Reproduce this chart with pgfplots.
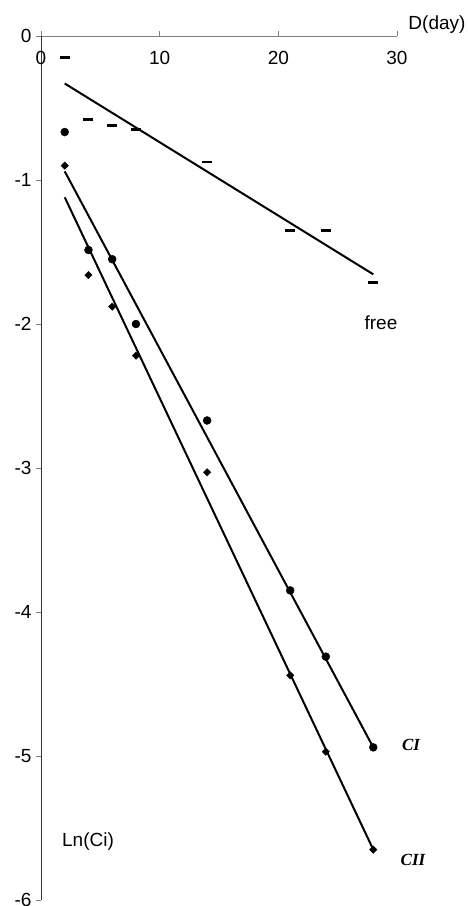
\documentclass[border=0pt]{standalone}
\usepackage{pgfplots}
\pgfplotsset{compat=1.18}
\usepackage{fontspec}
\setmainfont{Liberation Sans}
\newfontfamily\timesf{Liberation Serif}
\begin{document}
\begin{tikzpicture}
\begin{axis}[
  scale only axis,
  width=356pt, height=864pt,
  at={(0,0)}, anchor=south west,
  xmin=0, xmax=30, ymin=-6, ymax=0,
  axis x line=top, axis y line=left,
  axis line style={-},
  x axis line style={draw=gray, line width=0.8pt},
  y axis line style={draw=black!80, line width=0.8pt},
  xtick={0,10,20,30}, ytick={0,-1,-2,-3,-4,-5,-6},
  tick align=outside,
  major tick length=5pt,
  tick style={draw=gray, line width=0.8pt},
  /pgf/number format/assume math mode=true,
  tick label style={font=\fontsize{19}{21}\selectfont},
  xticklabel style={anchor=center, yshift=-27pt},
  yticklabel style={xshift=-1pt},
  clip=false,
]
% free
\addplot[only marks, mark=-, mark size=5pt, mark options={line width=2.6pt}] coordinates {
 (2,-0.15) (4,-0.58) (6,-0.62) (8,-0.65) (14,-0.875) (21,-1.35) (24,-1.35) (28,-1.71)};
\addplot[black, line width=2pt] coordinates {(2,-0.33) (28,-1.655)};
% CI
\addplot[only marks, mark=*, mark size=4pt, black] coordinates {
 (2,-0.667) (4,-1.486) (6,-1.55) (8,-2.0) (14,-2.67) (21,-3.85) (24,-4.31) (28,-4.94)};
\addplot[black, line width=2pt] coordinates {(2,-0.94) (28,-4.94)};
% CII
\addplot[only marks, mark=square*, mark size=2.6pt, mark options={rotate=45}, black] coordinates {
 (2,-0.90) (4,-1.66) (6,-1.88) (8,-2.22) (14,-3.03) (21,-4.44) (24,-4.97) (28,-5.65)};
\addplot[black, line width=2pt] coordinates {(2,-1.12) (28,-5.65)};
\node[font=\fontsize{19}{21}\selectfont] at (axis cs:33.37,0.076) {D(day)};
\node[font=\fontsize{19}{21}\selectfont] at (axis cs:28.65,-1.993) {free};
\node[font=\fontsize{19}{21}\selectfont] at (axis cs:3.96,-5.597) {Ln(Ci)};
\node[font=\timesf\bfseries\itshape\fontsize{17}{19}\selectfont] at (axis cs:31.18,-4.924) {CI};
\node[font=\timesf\bfseries\itshape\fontsize{17}{19}\selectfont] at (axis cs:31.35,-5.722) {CII};
\end{axis}
\pgfresetboundingbox
\path (-41pt,-6pt) rectangle (427pt,900pt);
\end{tikzpicture}
\end{document}
